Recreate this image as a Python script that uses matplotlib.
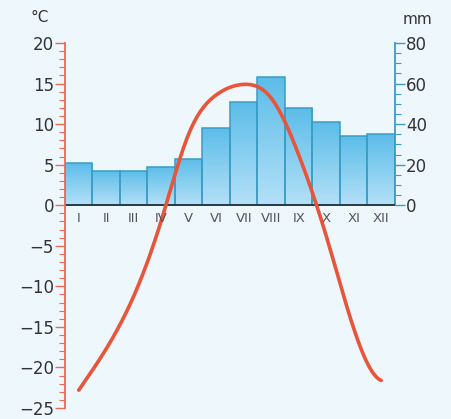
import numpy as np
import matplotlib.pyplot as plt
from matplotlib.patches import Rectangle
from matplotlib.colors import LinearSegmentedColormap

months = ['I', 'II', 'III', 'IV', 'V', 'VI', 'VII', 'VIII', 'IX', 'X', 'XI', 'XII']
precip = [21, 17, 17, 19, 23, 38, 51, 63, 48, 41, 34, 35]
temps = [-22.8, -17.7, -11.2, -1.9, 8.8, 13.6, 14.9, 13.2, 6.2, -3.8, -15.2, -21.6]

BG = '#eef7fc'
RED = '#e8553a'
TEAL = '#3a9cc4'


def smooth_curve(x, y, xs):
    # cubic spline with not-a-knot ends, only used to draw the line smoothly
    x = np.asarray(x, float)
    y = np.asarray(y, float)
    n = len(x)
    h = np.diff(x)
    A = np.zeros((n, n))
    r = np.zeros(n)
    A[0, 0], A[0, 1], A[0, 2] = h[1], -(h[0] + h[1]), h[0]
    A[-1, -3], A[-1, -2], A[-1, -1] = h[-1], -(h[-2] + h[-1]), h[-2]
    for i in range(1, n - 1):
        A[i, i - 1] = h[i - 1]
        A[i, i] = 2 * (h[i - 1] + h[i])
        A[i, i + 1] = h[i]
        r[i] = 3 * ((y[i + 1] - y[i]) / h[i] - (y[i] - y[i - 1]) / h[i - 1])
    c = np.linalg.solve(A, r)
    b = (np.diff(y) / h) - h * (2 * c[:-1] + c[1:]) / 3
    d = np.diff(c) / (3 * h)
    idx = np.clip(np.searchsorted(x, xs) - 1, 0, n - 2)
    dx = xs - x[idx]
    return y[idx] + b[idx] * dx + c[idx] * dx ** 2 + d[idx] * dx ** 3


fig = plt.figure(figsize=(4.52, 4.19), dpi=100)
fig.patch.set_facecolor(BG)
ax = fig.add_axes([65 / 452, 1 - 408 / 419, 330 / 452, 365 / 419])
ax2 = ax.twinx()

x = np.arange(12)
ax.set_xlim(-0.5, 11.5)
ax.set_ylim(-25, 20)

# bars with a vertical gradient
grad = np.linspace(0, 1, 100).reshape(-1, 1)
cmap = LinearSegmentedColormap.from_list('b', ['#b3e0f7', '#5cbde9'])
for i, p in enumerate(precip):
    rect = Rectangle((i - 0.5, 0), 1, p, facecolor='none', edgecolor=TEAL, lw=1.1, zorder=3)
    ax2.add_patch(rect)
    im = ax2.imshow(grad, extent=(i - 0.5, i + 0.5, 0, p), origin='lower', cmap=cmap,
                    aspect='auto', zorder=2)
    im.set_clip_path(rect)
ax2.set_xlim(-0.5, 11.5)
ax2.set_ylim(-100, 80)
ax2.axhline(0, color='#23343a', lw=1.3, zorder=4)

# temperature curve on top
ax.set_zorder(ax2.get_zorder() + 1)
ax.patch.set_visible(False)
ax2.patch.set_facecolor(BG)
xs = np.linspace(0, 11, 300)
ax.plot(xs, smooth_curve(x, temps, xs), color=RED, lw=2.6, solid_capstyle='round', zorder=5)

# left axis
for s in ['top', 'right', 'bottom']:
    ax.spines[s].set_visible(False)
ax.spines['left'].set_color('#e86a5a')
ax.spines['left'].set_linewidth(1.3)
ax.set_yticks(np.arange(-25, 21, 5))
ax.set_yticklabels([str(v).replace('-', '\u2212') for v in range(-25, 21, 5)])
ax.set_yticks(np.arange(-25, 21, 1), minor=True)
ax.tick_params(axis='y', which='major', colors='#e86a5a', length=7, width=1, labelcolor='#333333',
               labelsize=12, pad=1)
ax.tick_params(axis='y', which='minor', colors='#e86a5a', length=4, width=0.8)
ax.set_xticks([])

# right axis
for s in ['top', 'left', 'bottom']:
    ax2.spines[s].set_visible(False)
ax2.spines['right'].set_color(TEAL)
ax2.spines['right'].set_linewidth(1.3)
ax2.spines['right'].set_bounds(0, 80)
ax2.set_yticks(np.arange(0, 81, 20))
ax2.set_yticks(np.arange(0, 81, 5), minor=True)
ax2.tick_params(axis='y', which='major', colors=TEAL, length=7, width=1, labelcolor='#333333',
                labelsize=12, pad=1)
ax2.tick_params(axis='y', which='minor', colors=TEAL, length=4, width=0.8)
ax2.set_xticks([])

for i, m in enumerate(months):
    ax.text(i, -0.8, m, ha='center', va='top', fontsize=9.5, color='#555555', zorder=6)

fig.text(40 / 452, 1 - 18 / 419, '°C', fontsize=11, color='#333333', ha='center', va='center')
fig.text(418 / 452, 1 - 20 / 419, 'mm', fontsize=11, color='#333333', ha='center', va='center')

fig.savefig('out.png', dpi=100, facecolor=BG)
